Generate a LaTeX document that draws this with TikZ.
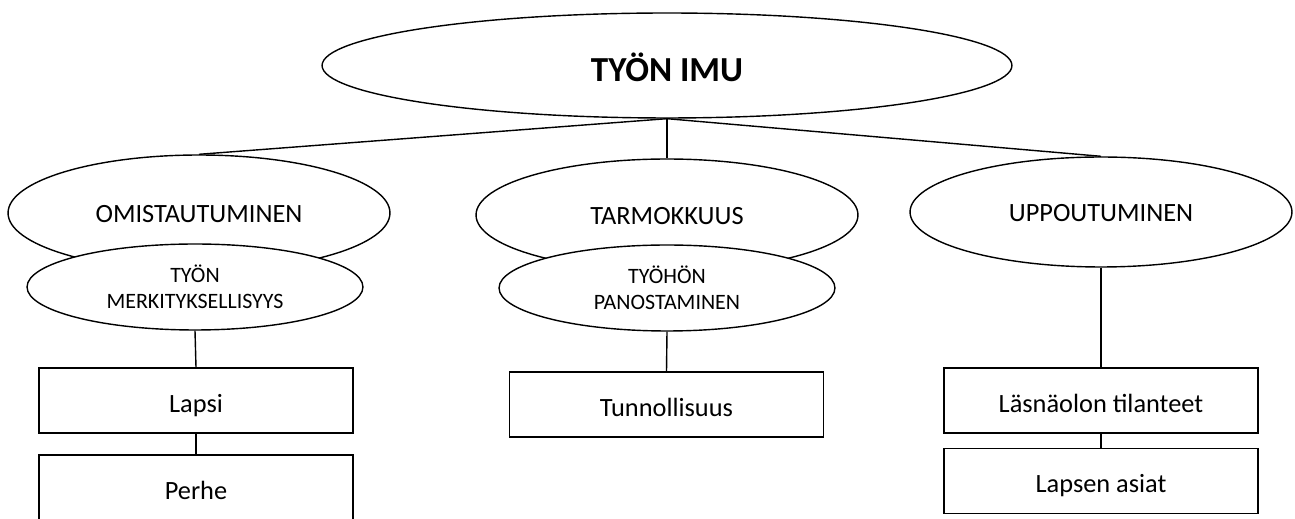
\documentclass[tikz,border=0pt]{standalone}
\usepackage{fontspec}
\setmainfont{Carlito}
\usetikzlibrary{shapes.geometric}

\tikzset{
  mainoval/.style={draw, ellipse, line width=0.8pt, inner sep=0pt,
    minimum width=13.8cm, minimum height=2.1cm,
    text height=18pt, text depth=0pt,
    font=\fontsize{20}{24}\selectfont\bfseries},
  bigoval/.style={draw, ellipse, line width=0.8pt, inner sep=0pt, fill=white,
    minimum width=7.64cm, text height=11pt, text depth=0pt,
    font=\fontsize{15}{18}\selectfont},
  smalloval/.style={draw, ellipse, line width=0.8pt, inner sep=0pt, fill=white,
    minimum width=6.72cm, minimum height=1.72cm, align=center,
    font=\fontsize{12.5}{15}\selectfont},
  itembox/.style={draw, rectangle, line width=0.8pt, fill=white,
    minimum width=6.28cm, minimum height=1.3cm, inner sep=0pt,
    text height=13.6pt, text depth=0pt,
    font=\fontsize{15}{18}\selectfont},
  joint/.style={line width=0.8pt}
}

\begin{document}
\begin{tikzpicture}[x=0.02cm, y=-0.02cm]

\useasboundingbox (0,0) rectangle (1295,519);
\clip (0,0) rectangle (1295,519);

% nodes
\node (imu) [mainoval] at (667, 65.5) {TYÖN IMU};

\node (omist) [bigoval, minimum height=2.32cm] at (199, 213) {OMISTAUTUMINEN};
\node (merk) [smalloval] at (195, 287) {TYÖN\\MERKITYKSELLISYYS};
\node (lapsi) [itembox] at (196, 400.5) {Lapsi};
\node (perhe) [itembox] at (196, 487.5) {Perhe};

\node (tarmo) [bigoval, minimum height=2.24cm] at (667, 215) {TARMOKKUUS};
\node (panost) [smalloval] at (667, 288) {TYÖHÖN\\PANOSTAMINEN};
\node (tunn) [itembox] at (666.5, 404.5) {Tunnollisuus};

\node (uppo) [bigoval, minimum height=2.2cm] at (1101, 212) {UPPOUTUMINEN};
\node (lasna) [itembox] at (1101, 400.5) {Läsnäolon tilanteet};
\node (lapsen) [itembox] at (1101, 481) {Lapsen asiat};

% lines
\draw[joint] (imu.south) -- (omist.north);
\draw[joint] (imu.south) -- (tarmo.north);
\draw[joint] (imu.south) -- (uppo.north);
\draw[joint] (merk.south) -- (lapsi.north);
\draw[joint] (lapsi.south) -- (perhe.north);
\draw[joint] (panost.south) -- (tunn.north);
\draw[joint] (uppo.south) -- (lasna.north);
\draw[joint] (lasna.south) -- (lapsen.north);

\end{tikzpicture}
\end{document}
